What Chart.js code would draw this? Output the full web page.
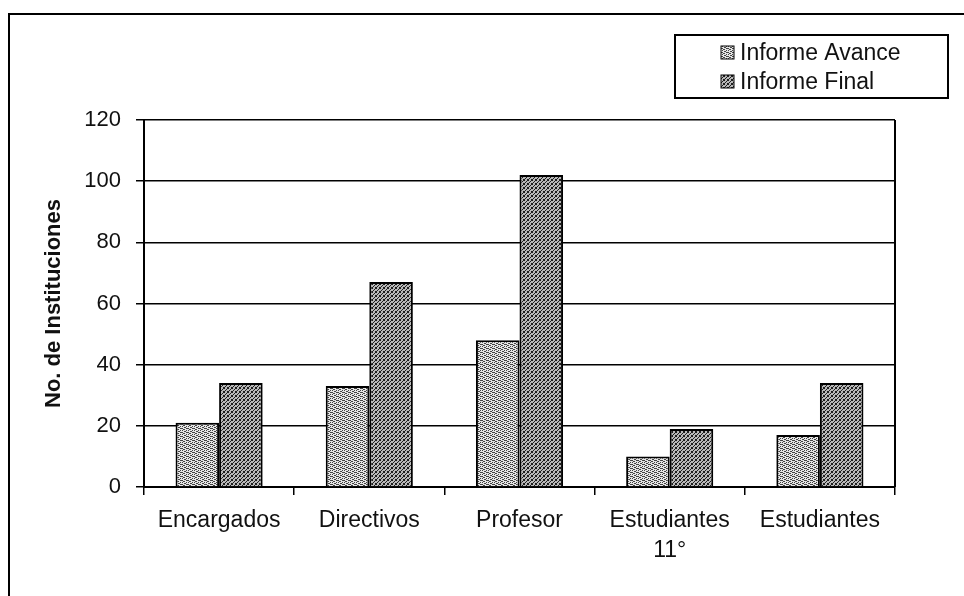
<!DOCTYPE html>
<html lang="es">
<head>
    <meta charset="UTF-8">
    <title>No. de Instituciones</title>
    <script src="https://cdn.jsdelivr.net/npm/chart.js"></script>
    <style>
        html, body { margin: 0; padding: 0; background: #fff; }
        .chart-box { position: relative; width: 964px; height: 596px; }
    </style>
</head>
<body>
    <div class="chart-box">
        <canvas id="chart"></canvas>
    </div>

    <script>
        // datos
        const categorias = ['Encargados', 'Directivos', 'Profesor', ['Estudiantes', '11°'], 'Estudiantes'];
        const informeAvance = [21, 33, 48, 10, 17];
        const informeFinal = [34, 67, 102, 19, 34];
        const series = ['Informe Avance', 'Informe Final'];
        const yTicks = [0, 20, 40, 60, 80, 100, 120];

        // tramas tipo impresion
        function makePattern(size, bg, ink, pixels) {
            const c = document.createElement('canvas');
            c.width = size[0];
            c.height = size[1];
            const g = c.getContext('2d');
            g.fillStyle = bg;
            g.fillRect(0, 0, c.width, c.height);
            g.fillStyle = ink;
            pixels.forEach(p => g.fillRect(p[0], p[1], 1, 1));
            return g.createPattern(c, 'repeat');
        }

        const ctx = document.getElementById('chart').getContext('2d');

        const avancePattern = makePattern([6, 4], '#e6e6e6', '#444',
            [[0, 0], [1, 0], [3, 1], [4, 1], [0, 2], [2, 2], [4, 3], [5, 3], [2, 0]]);
        const finalPattern = makePattern([4, 4], '#b8b8b8', '#1e1e1e',
            [[3, 0], [2, 1], [1, 2], [0, 3], [0, 0], [3, 3]]);

        const fontFam = '"Liberation Sans", Arial, sans-serif';

        // marco exterior, borde derecho del area y leyenda con recuadro
        const extras = {
            id: 'extras',
            afterDraw(chart) {
                const c = chart.ctx;
                const a = chart.chartArea;
                c.save();
                c.strokeStyle = '#000';
                c.lineWidth = 2;
                c.beginPath();
                c.moveTo(9, 596);
                c.lineTo(9, 14);
                c.lineTo(964, 14);
                c.stroke();

                c.beginPath();
                c.moveTo(a.right, a.top);
                c.lineTo(a.right, a.bottom);
                c.stroke();

                // leyenda
                c.strokeRect(675, 35, 273, 63);
                c.font = '23px ' + fontFam;
                c.textBaseline = 'middle';
                chart.data.datasets.forEach((ds, i) => {
                    const y = 53 + i * 29;
                    c.fillStyle = ds.backgroundColor;
                    c.fillRect(721, y - 7, 13, 13);
                    c.lineWidth = 1;
                    c.strokeRect(721, y - 7, 13, 13);
                    c.fillStyle = '#111';
                    c.fillText(ds.label, 740, y + 1);
                });
                c.restore();
            }
        };

        new Chart(ctx, {
            type: 'bar',
            data: {
                labels: categorias,
                datasets: [
                    {
                        label: series[0],
                        data: informeAvance,
                        backgroundColor: avancePattern,
                        borderColor: '#000',
                        borderWidth: 2
                    },
                    {
                        label: series[1],
                        data: informeFinal,
                        backgroundColor: finalPattern,
                        borderColor: '#000',
                        borderWidth: 2
                    }
                ]
            },
            options: {
                responsive: true,
                maintainAspectRatio: false,
                animation: false,
                layout: {
                    padding: { top: 120, right: 69, left: 0, bottom: 0 }
                },
                datasets: {
                    bar: { barPercentage: 1.0, categoryPercentage: 0.58 }
                },
                scales: {
                    x: {
                        afterFit: scale => { scale.height = 109; },
                        grid: {
                            offset: true,
                            drawOnChartArea: false,
                            drawTicks: true,
                            tickLength: 8,
                            color: '#000',
                            lineWidth: 1.5
                        },
                        border: { color: '#000', width: 2 },
                        ticks: {
                            color: '#111',
                            padding: 11,
                            maxRotation: 0,
                            autoSkip: false,
                            font: { family: fontFam, size: 23, lineHeight: 1.3 }
                        }
                    },
                    y: {
                        min: 0,
                        max: 120,
                        afterFit: scale => { scale.width = 144; },
                        afterBuildTicks: scale => { scale.ticks = yTicks.map(v => ({ value: v })); },
                        grid: {
                            color: '#000',
                            lineWidth: 1.5,
                            drawTicks: true,
                            tickLength: 8
                        },
                        border: { color: '#000', width: 2 },
                        ticks: {
                            color: '#111',
                            padding: 15,
                            font: { family: fontFam, size: 22 }
                        },
                        title: {
                            display: true,
                            text: 'No. de Instituciones',
                            color: '#111',
                            padding: { top: 41, bottom: 0 },
                            font: { family: fontFam, size: 22, weight: 'bold' }
                        }
                    }
                },
                plugins: {
                    legend: { display: false },
                    tooltip: { enabled: false }
                }
            },
            plugins: [extras]
        });
    </script>
</body>
</html>
